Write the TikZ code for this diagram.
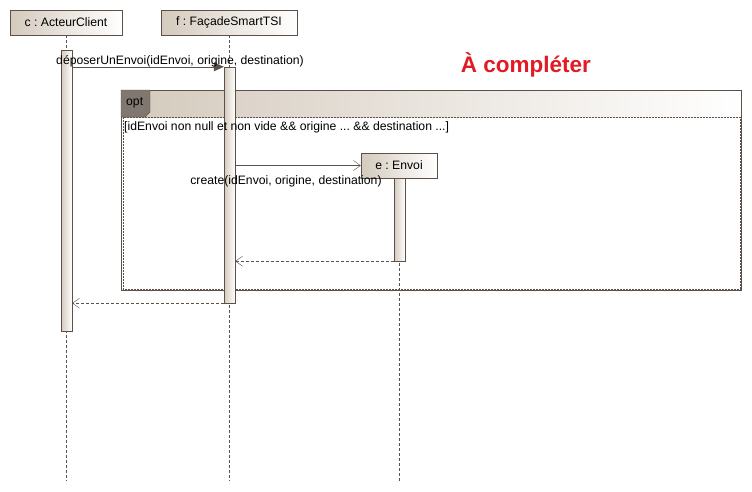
\documentclass[tikz,border=0pt]{standalone}
\usepackage{fontspec}
\setmainfont{Liberation Sans}
\usetikzlibrary{arrows.meta}
\frenchspacing

\definecolor{umlline}{RGB}{92,80,72}
\definecolor{umltan}{RGB}{212,202,189}
\definecolor{umltab}{RGB}{128,120,112}
\definecolor{todored}{RGB}{226,26,36}

\tikzset{
  head/.style={draw=umlline, left color=umltan, right color=white, minimum height=25pt, inner sep=0pt, font=\fontsize{12.2}{14}\selectfont},
  act/.style={draw=umlline, left color=umltan, right color=white, minimum width=11pt, inner sep=0pt},
  life/.style={draw=umlline, dashed, dash pattern=on 3pt off 2pt, thin},
  call/.style={draw=umlline, -{Triangle[length=10pt,width=9pt]}},
  create/.style={draw=umlline, -{Straight Barb[length=7pt,width=10pt]}},
  reply/.style={draw=umlline, dashed, dash pattern=on 3pt off 2pt, -{Straight Barb[length=7pt,width=10pt]}},
  lbl/.style={font=\fontsize{12.2}{14}\selectfont, inner sep=1pt}
}

\begin{document}
\begin{tikzpicture}[x=1pt, y=-1pt]
\useasboundingbox (0,0) rectangle (752,491);

% opt frame
\shade[left color=umltan, right color=white] (121,90) rectangle (741,117);
\draw[umlline] (121,90) rectangle (741,290);
\draw[umlline, dashed, dash pattern=on 2pt off 1pt] (123,117) rectangle (740,289);
\filldraw[fill=umltab, draw=umlline] (121,90) -- (150,90) -- (150,112) -- (145,117) -- (121,117) -- cycle;
\node[lbl, anchor=west] (opt) at (125,103) {opt};

% lifelines
\node[head, minimum width=112pt] (c) at (66,22.5) {c : ActeurClient};
\node[head, minimum width=136pt] (f) at (229,22.5) {f : FaçadeSmartTSI};
\node[head, minimum width=76pt] (e) at (399,165.5) {e : Envoi};
\coordinate (cend) at (66,481);
\coordinate (fend) at (229,481);
\coordinate (eend) at (399,481);
\draw[life] (c.south) -- (cend);
\draw[life] (f.south) -- (fend);
\draw[life] (e.south) -- (eend);

% activations
\node[act, minimum height=281pt] (ca) at (66.5,190.5) {};
\node[act, minimum height=236pt] (fa) at (229.5,185) {};
\node[act, minimum height=83pt] (ea) at (399.5,219.5) {};

\node[lbl, anchor=west] (guard) at (123,127) {[idEnvoi non null et non vide \&\& origine ... \&\& destination ...]};

% messages
\draw[call] (ca.east |- fa.north) -- node[lbl, above=-1pt, xshift=32pt] (m1) {déposerUnEnvoi(idEnvoi, origine, destination)} (fa.north west);
\draw[create] (fa.east |- e.west) -- node[lbl, below=9pt, xshift=-12pt] (m2) {create(idEnvoi, origine, destination)} (e.west);
\draw[reply] (ea.south west) -- (fa.east |- ea.south);
\draw[reply] (fa.south west) -- (ca.east |- fa.south);

% note
\node[text=todored, font=\fontsize{22.5}{26}\selectfont\bfseries] (todo) at (526,65) {À compléter};

\end{tikzpicture}
\end{document}
